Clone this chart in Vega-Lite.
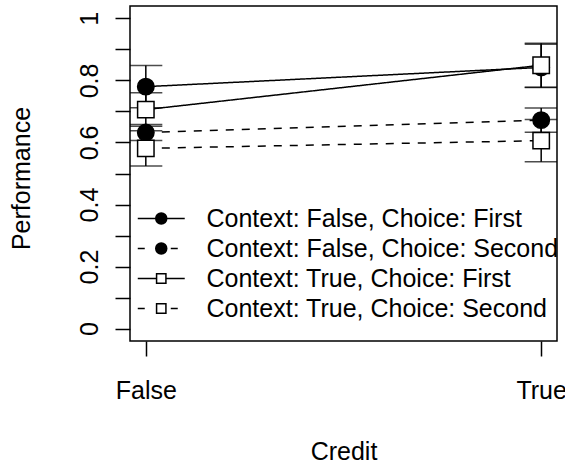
{
  "$schema": "https://vega.github.io/schema/vega-lite/v6.json",
  "width": 427,
  "height": 335,
  "autosize": {"type": "none"},
  "padding": {"left": 130, "top": 6, "right": 8, "bottom": 122},
  "background": "white",
  "config": {
    "view": {"stroke": "black", "strokeWidth": 1.5, "fill": "white"},
    "font": "Liberation Sans",
    "axisY": {
      "labelAngle": 270,
      "labelAlign": "center",
      "labelBaseline": "alphabetic",
      "labelPadding": 18,
      "labelFlush": false,
      "labelOverlap": false,
      "labelFont": "Liberation Sans",
      "labelFontSize": 25,
      "labelColor": "black",
      "tickSize": 15,
      "tickWidth": 1.5,
      "tickColor": "black",
      "domain": false,
      "grid": false,
      "titleFont": "Liberation Sans",
      "titleFontSize": 25,
      "titleFontWeight": "normal",
      "titleColor": "black",
      "titleAngle": 270,
      "titleAlign": "center",
      "titleBaseline": "alphabetic",
      "titleX": -101,
      "titleY": 172
    }
  },
  "data": {
    "values": [
      {"Credit": "False", "Context": "False", "Choice": "First", "series": "Context: False, Choice: First", "perf": 0.78, "lo": 0.712, "hi": 0.848},
      {"Credit": "False", "Context": "False", "Choice": "Second", "series": "Context: False, Choice: Second", "perf": 0.632, "lo": 0.606, "hi": 0.658},
      {"Credit": "False", "Context": "True", "Choice": "First", "series": "Context: True, Choice: First", "perf": 0.706, "lo": 0.652, "hi": 0.76},
      {"Credit": "False", "Context": "True", "Choice": "Second", "series": "Context: True, Choice: Second", "perf": 0.581, "lo": 0.524, "hi": 0.638},
      {"Credit": "True", "Context": "False", "Choice": "First", "series": "Context: False, Choice: First", "perf": 0.842, "lo": 0.777, "hi": 0.917},
      {"Credit": "True", "Context": "False", "Choice": "Second", "series": "Context: False, Choice: Second", "perf": 0.672, "lo": 0.633, "hi": 0.711},
      {"Credit": "True", "Context": "True", "Choice": "First", "series": "Context: True, Choice: First", "perf": 0.849, "lo": 0.778, "hi": 0.92},
      {"Credit": "True", "Context": "True", "Choice": "Second", "series": "Context: True, Choice: Second", "perf": 0.606, "lo": 0.538, "hi": 0.674}
    ]
  },
  "encoding": {
    "x": {
      "field": "Credit",
      "type": "ordinal",
      "title": "Credit",
      "scale": {"type": "point", "padding": 0.04},
      "axis": {
        "labelAngle": 0,
        "labelFont": "Liberation Sans",
        "labelFontSize": 25,
        "labelColor": "black",
        "labelBaseline": "alphabetic",
        "labelPadding": 42,
        "tickSize": 15,
        "tickWidth": 1.5,
        "tickColor": "black",
        "domain": false,
        "grid": false,
        "titleFont": "Liberation Sans",
        "titleFontSize": 25,
        "titleFontWeight": "normal",
        "titleColor": "black",
        "titleBaseline": "alphabetic",
        "titleY": 118
      }
    }
  },
  "layer": [
    {
      "mark": {"type": "line", "stroke": "black", "strokeWidth": 1.5},
      "encoding": {
        "y": {
          "field": "perf",
          "type": "quantitative",
          "title": "Performance",
          "scale": {"domain": [-0.04, 1.04], "nice": false, "zero": false},
          "axis": {
            "values": [0, 0.1, 0.2, 0.3, 0.4, 0.5, 0.6, 0.7, 0.8, 0.9, 1],
            "labelExpr": "round(datum.value*10)%2==0 ? format(datum.value, '') : ''"
          }
        },
        "detail": {"field": "series"},
        "strokeDash": {
          "field": "Choice",
          "type": "nominal",
          "scale": {"domain": ["First", "Second"], "range": [[1, 0], [8, 8]]},
          "legend": null
        }
      }
    },
    {
      "mark": {"type": "rule", "stroke": "black", "strokeWidth": 1.5},
      "encoding": {
        "y": {
          "field": "lo",
          "type": "quantitative",
          "title": "Performance",
          "axis": {
            "values": [0, 0.1, 0.2, 0.3, 0.4, 0.5, 0.6, 0.7, 0.8, 0.9, 1],
            "labelExpr": "round(datum.value*10)%2==0 ? format(datum.value, '') : ''"
          }
        },
        "y2": {"field": "hi"}
      }
    },
    {
      "mark": {"type": "tick", "orient": "horizontal", "size": 33, "thickness": 1.5, "color": "black", "clip": true},
      "encoding": {
        "y": {
          "field": "lo",
          "type": "quantitative",
          "title": "Performance",
          "axis": {
            "values": [0, 0.1, 0.2, 0.3, 0.4, 0.5, 0.6, 0.7, 0.8, 0.9, 1],
            "labelExpr": "round(datum.value*10)%2==0 ? format(datum.value, '') : ''"
          }
        }
      }
    },
    {
      "mark": {"type": "tick", "orient": "horizontal", "size": 33, "thickness": 1.5, "color": "black", "clip": true},
      "encoding": {
        "y": {
          "field": "hi",
          "type": "quantitative",
          "title": "Performance",
          "axis": {
            "values": [0, 0.1, 0.2, 0.3, 0.4, 0.5, 0.6, 0.7, 0.8, 0.9, 1],
            "labelExpr": "round(datum.value*10)%2==0 ? format(datum.value, '') : ''"
          }
        }
      }
    },
    {
      "mark": {"type": "point", "stroke": "black", "strokeWidth": 1.5, "size": 270, "opacity": 1, "fillOpacity": 1},
      "encoding": {
        "y": {
          "field": "perf",
          "type": "quantitative",
          "title": "Performance",
          "axis": {
            "values": [0, 0.1, 0.2, 0.3, 0.4, 0.5, 0.6, 0.7, 0.8, 0.9, 1],
            "labelExpr": "round(datum.value*10)%2==0 ? format(datum.value, '') : ''"
          }
        },
        "shape": {
          "field": "Context",
          "type": "nominal",
          "scale": {"domain": ["False", "True"], "range": ["circle", "square"]},
          "legend": null
        },
        "fill": {
          "field": "Context",
          "type": "nominal",
          "scale": {"domain": ["False", "True"], "range": ["black", "white"]},
          "legend": null
        }
      }
    },
    {
      "mark": {"type": "point", "stroke": "black", "strokeWidth": 1.5, "opacity": 0},
      "encoding": {
        "y": {
          "field": "perf",
          "type": "quantitative",
          "title": "Performance",
          "axis": {
            "values": [0, 0.1, 0.2, 0.3, 0.4, 0.5, 0.6, 0.7, 0.8, 0.9, 1],
            "labelExpr": "round(datum.value*10)%2==0 ? format(datum.value, '') : ''"
          }
        },
        "shape": {
          "field": "series",
          "type": "nominal",
          "scale": {
            "range": [
              "M-4.27,0H-1M1,0H4.27M-1,0A1,1 0 1,0 1,0A1,1 0 1,0 -1,0Z",
              "M-4.27,0H-3M1.73,0H3M-1,0A1,1 0 1,0 1,0A1,1 0 1,0 -1,0Z",
              "M-4.27,0H-0.85M0.85,0H4.27M-0.85,-0.85H0.85V0.85H-0.85Z",
              "M-4.27,0H-3M1.73,0H3M-0.85,-0.85H0.85V0.85H-0.85Z"
            ]
          },
          "legend": {
            "orient": "none",
            "legendX": 18.75,
            "legendY": 200,
            "title": null,
            "padding": 0,
            "labelFont": "Liberation Sans",
            "labelFontSize": 25,
            "labelColor": "black",
            "labelLimit": 500,
            "labelOffset": 32.75,
            "rowPadding": 4,
            "symbolSize": 121,
            "symbolStrokeWidth": 1.5,
            "symbolStrokeColor": "black",
            "symbolOpacity": 1,
            "encode": {
              "symbols": {
                "update": {
                  "stroke": {"value": "black"},
                  "strokeWidth": {"value": 1.5},
                  "strokeOpacity": {"value": 1}
                }
              }
            }
          }
        },
        "fill": {
          "field": "series",
          "type": "nominal",
          "scale": {"range": ["black", "black", "white", "white"]},
          "legend": {
            "orient": "none",
            "legendX": 18.75,
            "legendY": 200,
            "title": null,
            "padding": 0,
            "labelFont": "Liberation Sans",
            "labelFontSize": 25,
            "labelColor": "black",
            "labelLimit": 500,
            "labelOffset": 32.75,
            "rowPadding": 4,
            "symbolSize": 121,
            "symbolStrokeWidth": 1.5,
            "symbolStrokeColor": "black",
            "symbolOpacity": 1,
            "encode": {
              "symbols": {
                "update": {
                  "stroke": {"value": "black"},
                  "strokeWidth": {"value": 1.5},
                  "strokeOpacity": {"value": 1}
                }
              }
            }
          }
        }
      }
    }
  ],
  "resolve": {"scale": {"shape": "independent", "fill": "independent"}}
}
